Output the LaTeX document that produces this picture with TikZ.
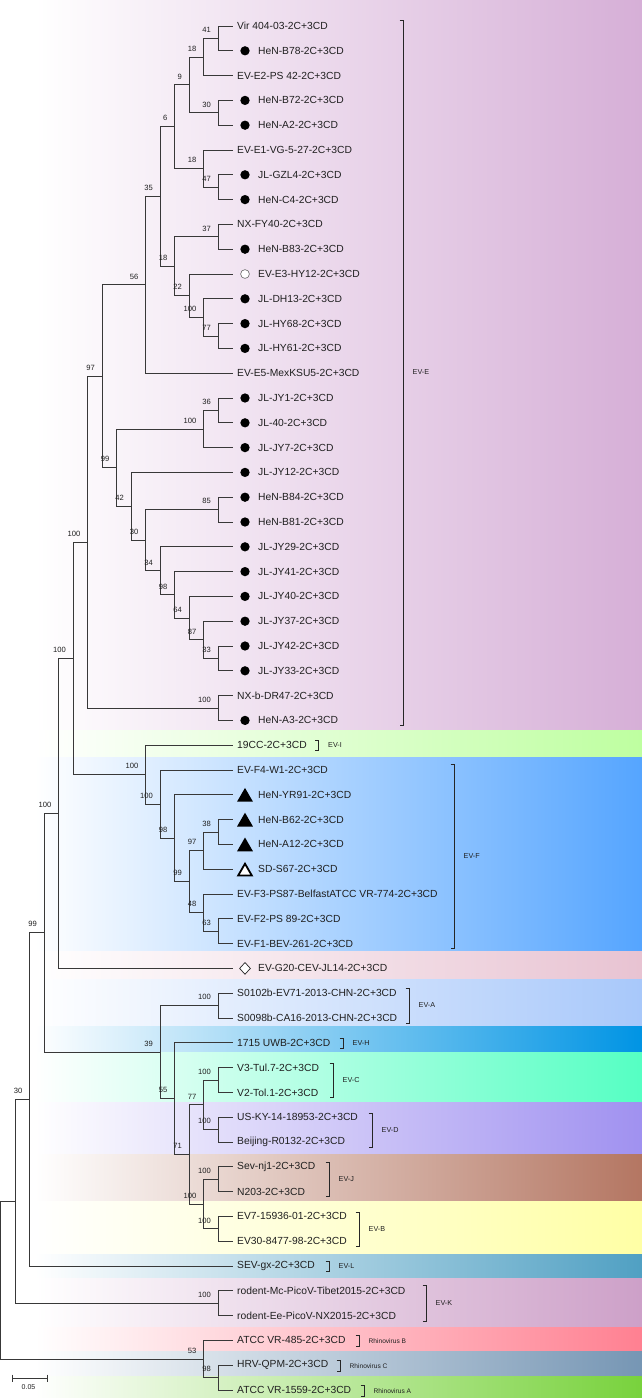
\documentclass[tikz,border=0pt]{standalone}
\usepackage{fontspec}
\setmainfont{Liberation Sans}
\usetikzlibrary{shapes.geometric,calc}
\definecolor{cE}{RGB}{214,175,215}
\definecolor{cI}{RGB}{190,255,160}
\definecolor{cF}{RGB}{85,165,255}
\definecolor{cG}{RGB}{232,195,210}
\definecolor{cA}{RGB}{168,200,250}
\definecolor{cH}{RGB}{0,148,228}
\definecolor{cC}{RGB}{85,255,195}
\definecolor{cD}{RGB}{160,145,240}
\definecolor{cJ}{RGB}{180,118,98}
\definecolor{cB}{RGB}{255,255,165}
\definecolor{cL}{RGB}{80,160,195}
\definecolor{cK}{RGB}{205,160,200}
\definecolor{cRB}{RGB}{255,128,145}
\definecolor{cRC}{RGB}{118,150,180}
\definecolor{cRA}{RGB}{120,210,60}
\newcommand\leafA[2]{\coordinate (L#1) at (232.5,{26+24.8*(#1-1)});
  \node[leaf] (t#1) at (237,{26+24.8*(#1-1)}) {#2};}
\newcommand\leafM[3]{\coordinate (L#1) at (232.5,{26+24.8*(#1-1)});
  \node[#3] (m#1) at (245,{26+24.8*(#1-1)}) {};
  \node[leaf] (t#1) at (258,{26+24.8*(#1-1)}) {#2};}
\newcommand\tn[3]{\coordinate (#1) at ({232.5-14.5*#2},{26+24.8*(#3-1)});}
\newcommand\ed[3]{\draw[tr] (#1) |- (#2); \draw[tr] (#1) |- (#3);}
\newcommand\bsl[2]{\node[bs] (b#1) at (#1) {#2};}
\newcommand\brk[5]{% name, x, ytop, ybottom, label
  \coordinate (#1t) at (#2,#3); \coordinate (#1b) at (#2,#4);
  \draw[br] ($(#1t)+(-3.5,0)$) -- (#1t) -- (#1b) -- ($(#1b)+(-3.5,0)$);
  \node[cl] (#1l) at ($(#1t)!0.5!(#1b)+(9.5,0)$) {#5};}
\begin{document}
\begin{tikzpicture}[x=1pt,y=-1pt,
  tr/.style={line width=0.9pt, draw=black!78, line cap=rect},
  br/.style={line width=0.9pt, draw=black!85},
  leaf/.style={anchor=west, inner sep=0pt, font=\fontsize{10.3}{12}\selectfont, text=black!88},
  bs/.style={anchor=base east, inner sep=0pt, xshift=-7pt, yshift=5.8pt, font=\fontsize{7.6}{9}\selectfont, text=black!88},
  cl/.style={anchor=west, inner sep=0pt, font=\fontsize{7.2}{9}\selectfont, text=black!88},
  dotm/.style={circle, fill=black, inner sep=0pt, minimum size=9.3pt},
  ocirc/.style={circle, fill=white, draw=black!60, line width=0.6pt, inner sep=0pt, minimum size=8.8pt},
  ftri/.style={regular polygon, regular polygon sides=3, fill=black, inner sep=0pt, minimum size=18.4pt, yshift=-2.3pt},
  otri/.style={regular polygon, regular polygon sides=3, fill=white, draw=black, line width=1.8pt, inner sep=0pt, minimum size=15.6pt, yshift=-2.3pt},
  odia/.style={diamond, fill=white, draw=black!85, line width=0.7pt, inner sep=0pt, minimum width=11pt, minimum height=12pt}
]
\useasboundingbox (0,0) rectangle (642,1398);
\fill[white] (0,0) rectangle (642,1398);
% bands
\shade[left color=white, right color=cE] (35,0) rectangle (642,730);
\shade[left color=white, right color=cI] (35,730) rectangle (642,757);
\shade[left color=white, right color=cF] (35,757) rectangle (642,951);
\shade[left color=white, right color=cG] (35,951) rectangle (642,979);
\shade[left color=white, right color=cA] (35,979) rectangle (642,1026);
\shade[left color=white, right color=cH] (35,1026) rectangle (642,1052);
\shade[left color=white, right color=cC] (35,1052) rectangle (642,1102);
\shade[left color=white, right color=cD] (35,1102) rectangle (642,1154);
\shade[left color=white, right color=cJ] (35,1154) rectangle (642,1201);
\shade[left color=white, right color=cB] (35,1201) rectangle (642,1254);
\shade[left color=white, right color=cL] (35,1254) rectangle (642,1277);
\shade[left color=white, right color=cK] (35,1278) rectangle (642,1327);
\shade[left color=white, right color=cRB] (35,1327) rectangle (642,1351);
\shade[left color=white, right color=cRC] (35,1351) rectangle (642,1376);
\shade[left color=white, right color=cRA] (35,1376) rectangle (642,1398);
% leaves
\leafA{1}{Vir 404-03-2C+3CD}
\leafM{2}{HeN-B78-2C+3CD}{dotm}
\leafA{3}{EV-E2-PS 42-2C+3CD}
\leafM{4}{HeN-B72-2C+3CD}{dotm}
\leafM{5}{HeN-A2-2C+3CD}{dotm}
\leafA{6}{EV-E1-VG-5-27-2C+3CD}
\leafM{7}{JL-GZL4-2C+3CD}{dotm}
\leafM{8}{HeN-C4-2C+3CD}{dotm}
\leafA{9}{NX-FY40-2C+3CD}
\leafM{10}{HeN-B83-2C+3CD}{dotm}
\leafM{11}{EV-E3-HY12-2C+3CD}{ocirc}
\leafM{12}{JL-DH13-2C+3CD}{dotm}
\leafM{13}{JL-HY68-2C+3CD}{dotm}
\leafM{14}{JL-HY61-2C+3CD}{dotm}
\leafA{15}{EV-E5-MexKSU5-2C+3CD}
\leafM{16}{JL-JY1-2C+3CD}{dotm}
\leafM{17}{JL-40-2C+3CD}{dotm}
\leafM{18}{JL-JY7-2C+3CD}{dotm}
\leafM{19}{JL-JY12-2C+3CD}{dotm}
\leafM{20}{HeN-B84-2C+3CD}{dotm}
\leafM{21}{HeN-B81-2C+3CD}{dotm}
\leafM{22}{JL-JY29-2C+3CD}{dotm}
\leafM{23}{JL-JY41-2C+3CD}{dotm}
\leafM{24}{JL-JY40-2C+3CD}{dotm}
\leafM{25}{JL-JY37-2C+3CD}{dotm}
\leafM{26}{JL-JY42-2C+3CD}{dotm}
\leafM{27}{JL-JY33-2C+3CD}{dotm}
\leafA{28}{NX-b-DR47-2C+3CD}
\leafM{29}{HeN-A3-2C+3CD}{dotm}
\leafA{30}{19CC-2C+3CD}
\leafA{31}{EV-F4-W1-2C+3CD}
\leafM{32}{HeN-YR91-2C+3CD}{ftri}
\leafM{33}{HeN-B62-2C+3CD}{ftri}
\leafM{34}{HeN-A12-2C+3CD}{ftri}
\leafM{35}{SD-S67-2C+3CD}{otri}
\leafA{36}{EV-F3-PS87-BelfastATCC VR-774-2C+3CD}
\leafA{37}{EV-F2-PS 89-2C+3CD}
\leafA{38}{EV-F1-BEV-261-2C+3CD}
\leafM{39}{EV-G20-CEV-JL14-2C+3CD}{odia}
\leafA{40}{S0102b-EV71-2013-CHN-2C+3CD}
\leafA{41}{S0098b-CA16-2013-CHN-2C+3CD}
\leafA{42}{1715 UWB-2C+3CD}
\leafA{43}{V3-Tul.7-2C+3CD}
\leafA{44}{V2-Tol.1-2C+3CD}
\leafA{45}{US-KY-14-18953-2C+3CD}
\leafA{46}{Beijing-R0132-2C+3CD}
\leafA{47}{Sev-nj1-2C+3CD}
\leafA{48}{N203-2C+3CD}
\leafA{49}{EV7-15936-01-2C+3CD}
\leafA{50}{EV30-8477-98-2C+3CD}
\leafA{51}{SEV-gx-2C+3CD}
\leafA{52}{rodent-Mc-PicoV-Tibet2015-2C+3CD}
\leafA{53}{rodent-Ee-PicoV-NX2015-2C+3CD}
\leafA{54}{ATCC VR-485-2C+3CD}
\leafA{55}{HRV-QPM-2C+3CD}
\leafA{56}{ATCC VR-1559-2C+3CD}
% internal nodes
\tn{n41}{1}{1.5}
\tn{n18a}{2}{2.25}
\tn{n30a}{1}{4.5}
\tn{n9}{3}{3.375}
\tn{n47}{1}{7.5}
\tn{n18b}{2}{6.75}
\tn{n6}{4}{5.0625}
\tn{n37}{1}{9.5}
\tn{n77}{1}{13.5}
\tn{n100a}{2}{12.75}
\tn{n22}{3}{11.875}
\tn{n18c}{4}{10.6875}
\tn{n35}{5}{7.875}
\tn{n56}{6}{11.4375}
\tn{n36}{1}{16.5}
\tn{n100b}{2}{17.25}
\tn{n85}{1}{20.5}
\tn{n33}{1}{26.5}
\tn{n87}{2}{25.75}
\tn{n64}{3}{24.875}
\tn{n98a}{4}{23.9375}
\tn{n34}{5}{22.96875}
\tn{n30b}{6}{21.734375}
\tn{n42}{7}{20.3671875}
\tn{n99a}{8}{18.80859}
\tn{n97}{9}{15.12305}
\tn{n100c}{1}{28.5}
\tn{n100d}{10}{21.81152}
\tn{n38}{1}{33.5}
\tn{n97b}{2}{34.25}
\tn{n63}{1}{37.5}
\tn{n48}{2}{36.75}
\tn{n99b}{3}{35.5}
\tn{n98b}{4}{33.75}
\tn{n100f}{5}{32.375}
\tn{n100g}{6}{31.1875}
\tn{n100h}{11}{26.49951}
\tn{n100i}{12}{32.74976}
\tn{n100j}{1}{40.5}
\tn{n100C}{1}{43.5}
\tn{n100D}{1}{45.5}
\tn{n77b}{2}{44.5}
\tn{n100J}{1}{47.5}
\tn{n100B}{1}{49.5}
\tn{n100k}{2}{48.5}
\tn{n71}{3}{46.5}
\tn{n55}{4}{44.25}
\tn{n39}{5}{42.375}
\tn{n99c}{13}{37.56238}
\tn{n30c}{14}{44.28119}
\tn{n100K}{1}{52.5}
\tn{nU}{15}{48.3906}
\tn{n98c}{1}{55.5}
\tn{n53}{2}{54.75}
\tn{root}{16}{51.5703}
% edges
\ed{n41}{L1}{L2}
\ed{n18a}{n41}{L3}
\ed{n30a}{L4}{L5}
\ed{n9}{n18a}{n30a}
\ed{n47}{L7}{L8}
\ed{n18b}{L6}{n47}
\ed{n6}{n9}{n18b}
\ed{n37}{L9}{L10}
\ed{n77}{L13}{L14}
\ed{n100a}{L12}{n77}
\ed{n22}{L11}{n100a}
\ed{n18c}{n37}{n22}
\ed{n35}{n6}{n18c}
\ed{n56}{n35}{L15}
\ed{n36}{L16}{L17}
\ed{n100b}{n36}{L18}
\ed{n85}{L20}{L21}
\ed{n33}{L26}{L27}
\ed{n87}{L25}{n33}
\ed{n64}{L24}{n87}
\ed{n98a}{L23}{n64}
\ed{n34}{L22}{n98a}
\ed{n30b}{n85}{n34}
\ed{n42}{L19}{n30b}
\ed{n99a}{n100b}{n42}
\ed{n97}{n56}{n99a}
\ed{n100c}{L28}{L29}
\ed{n100d}{n97}{n100c}
\ed{n38}{L33}{L34}
\ed{n97b}{n38}{L35}
\ed{n63}{L37}{L38}
\ed{n48}{L36}{n63}
\ed{n99b}{n97b}{n48}
\ed{n98b}{L32}{n99b}
\ed{n100f}{L31}{n98b}
\ed{n100g}{L30}{n100f}
\ed{n100h}{n100d}{n100g}
\ed{n100i}{n100h}{L39}
\ed{n100j}{L40}{L41}
\ed{n100C}{L43}{L44}
\ed{n100D}{L45}{L46}
\ed{n77b}{n100C}{n100D}
\ed{n100J}{L47}{L48}
\ed{n100B}{L49}{L50}
\ed{n100k}{n100J}{n100B}
\ed{n71}{n77b}{n100k}
\ed{n55}{L42}{n71}
\ed{n39}{n100j}{n55}
\ed{n99c}{n100i}{n39}
\ed{n30c}{n99c}{L51}
\ed{n100K}{L52}{L53}
\ed{nU}{n30c}{n100K}
\ed{n98c}{L55}{L56}
\ed{n53}{L54}{n98c}
\ed{root}{nU}{n53}
% bootstrap values
\bsl{n41}{41} \bsl{n18a}{18} \bsl{n9}{9} \bsl{n30a}{30} \bsl{n6}{6}
\bsl{n18b}{18} \bsl{n47}{47} \bsl{n35}{35} \bsl{n37}{37} \bsl{n18c}{18}
\bsl{n22}{22} \bsl{n100a}{100} \bsl{n77}{77} \bsl{n56}{56} \bsl{n97}{97}
\bsl{n36}{36} \bsl{n100b}{100} \bsl{n99a}{99} \bsl{n42}{42} \bsl{n85}{85}
\bsl{n30b}{30} \bsl{n34}{34} \bsl{n98a}{98} \bsl{n64}{64} \bsl{n87}{87}
\bsl{n33}{33} \bsl{n100c}{100} \bsl{n100d}{100} \bsl{n100h}{100}
\bsl{n100g}{100} \bsl{n100f}{100} \bsl{n98b}{98} \bsl{n99b}{99}
\bsl{n97b}{97} \bsl{n38}{38} \bsl{n48}{48} \bsl{n63}{63} \bsl{n100i}{100}
\bsl{n99c}{99} \bsl{n100j}{100} \bsl{n39}{39} \bsl{n55}{55} \bsl{n77b}{77}
\bsl{n100C}{100} \bsl{n100D}{100} \bsl{n71}{71} \bsl{n100k}{100}
\bsl{n100J}{100} \bsl{n100B}{100} \bsl{n30c}{30} \bsl{n100K}{100}
\bsl{n53}{53} \bsl{n98c}{98}
% clade brackets
\brk{kE}{403}{20}{725}{EV-E}
\brk{kI}{318.5}{740.5}{750}{EV-I}
\brk{kF}{454}{764}{948.5}{EV-F}
\brk{kA}{409}{988}{1023}{EV-A}
\brk{kH}{343}{1038}{1048}{EV-H}
\brk{kC}{333}{1063}{1097}{EV-C}
\brk{kD}{372}{1113}{1147}{EV-D}
\brk{kJ}{329}{1162}{1196}{EV-J}
\brk{kB}{359}{1212}{1246}{EV-B}
\brk{kL}{329}{1261.5}{1271.5}{EV-L}
\brk{kK}{426}{1285}{1321}{EV-K}
\tikzset{cl/.append style={font=\fontsize{6.6}{8}\selectfont}}
\brk{kRB}{359}{1335.5}{1346}{Rhinovirus B}
\brk{kRC}{340}{1360.5}{1371}{Rhinovirus C}
\brk{kRA}{364}{1385.5}{1396}{Rhinovirus A}
% scale bar
\coordinate (sb1) at (12,1378);
\coordinate (sb2) at (47,1378);
\draw[tr, line cap=butt] (sb1) -- (sb2);
\draw[tr, line cap=butt] ($(sb1)+(0,-3.5)$) -- ($(sb1)+(0,3.5)$);
\draw[tr, line cap=butt] ($(sb2)+(0,-3.5)$) -- ($(sb2)+(0,3.5)$);
\node[inner sep=0pt, font=\fontsize{7}{8}\selectfont, text=black!88] (sbl) at (28.5,1387.5) {0.05};
\end{tikzpicture}
\end{document}
